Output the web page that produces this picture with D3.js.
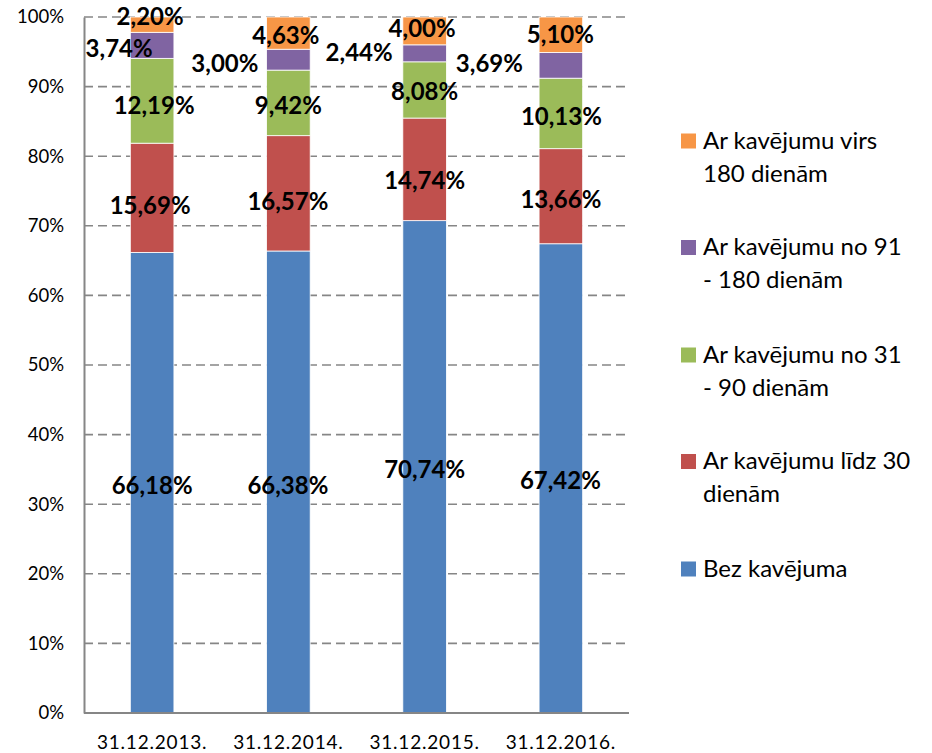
<!DOCTYPE html>
<html>
<head>
<meta charset="utf-8">
<script src="https://cdn.jsdelivr.net/npm/d3@7"></script>
<style>
  html, body { margin: 0; padding: 0; background: #fff; }
  svg { display: block; }
</style>
</head>
<body>
<svg id="chart" width="932" height="753"></svg>
<script>
// ---- data ----
const categories = ["31.12.2013.", "31.12.2014.", "31.12.2015.", "31.12.2016."];
const seriesNames = [
  "Bez kavējuma",
  "Ar kavējumu līdz 30 dienām",
  "Ar kavējumu no 31 - 90 dienām",
  "Ar kavējumu no 91 - 180 dienām",
  "Ar kavējumu virs 180 dienām"
];
const bezKavejuma   = [66.18, 66.38, 70.74, 67.42];
const lidz30        = [15.69, 16.57, 14.74, 13.66];
const no31lidz90    = [12.19,  9.42,  8.08, 10.13];
const no91lidz180   = [ 3.74,  3.00,  2.44,  3.69];
const virs180       = [ 2.20,  4.63,  4.00,  5.10];
const yTicks = [0, 10, 20, 30, 40, 50, 60, 70, 80, 90, 100];

// legend label lines (as shown, wrapped)
const legendLines = [
  ["Bez kavējuma"],
  ["Ar kavējumu līdz 30", "dienām"],
  ["Ar kavējumu no 31", "- 90 dienām"],
  ["Ar kavējumu no 91", "- 180 dienām"],
  ["Ar kavējumu virs", "180 dienām"]
];

// ---- styling / layout ----
const colors = ["#4F81BD", "#C0504D", "#9BBB59", "#8064A2", "#F79646"];
const font = "Lato, 'Open Sans', sans-serif";
const labelFs = 24, tickFs = 18.5, xTickFs = 19, legendFs = 24;
// label nudges [dx, dy] relative to segment centre (layout only)
const labelNudge = [
  [[0, 2.5], [-0.5, 3], [0, 2.2], [-0.5, 2.4]],
  [[-2, 8], [-0.5, 8.3], [0, 11], [0, 3]],
  [[2, 4.4], [0, 2], [0, 1], [0.5, 2.6]],
  [[-33, 3], [-63.5, 3.4], [-65.5, -1.3], [-71.5, -2.3]],
  [[-2, -8.6], [-2.5, 2], [-2.5, -3], [-0.5, 0]]
];

const seriesValues = [bezKavejuma, lidz30, no31lidz90, no91lidz180, virs180];
const rows = categories.map((c, i) => {
  const r = { cat: c };
  seriesNames.forEach((s, k) => r[s] = seriesValues[k][i]);
  return r;
});
const stacked = d3.stack().keys(seriesNames)(rows);

const svg = d3.select("#chart");
const plotL = 84, plotR = 629, plotT = 17, plotB = 713;

const x = d3.scaleBand().domain(categories).range([plotL, plotR])
  .paddingInner(0.68).paddingOuter(0.34);
const y = d3.scaleLinear().domain([0, 100]).range([plotB, plotT]);

// gridlines
svg.append("g").selectAll("line").data(yTicks.filter(t => t > 0)).join("line")
  .attr("x1", plotL).attr("x2", plotR)
  .attr("y1", d => y(d)).attr("y2", d => y(d))
  .attr("stroke", "#868686").attr("stroke-width", 1.6)
  .attr("stroke-dasharray", "9,5");

// y axis
const yAxis = d3.axisLeft(y).tickValues(yTicks).tickSize(0).tickPadding(20)
  .tickFormat(d => d + "%");
const gy = svg.append("g").attr("transform", `translate(${plotL},0)`).call(yAxis);
gy.select(".domain").attr("stroke", "#868686").attr("stroke-width", 2);
gy.selectAll("text").attr("font-family", font).attr("font-size", tickFs)
  .attr("fill", "#000");

// bars
const gBars = svg.append("g");
stacked.forEach((layer, k) => {
  gBars.append("g").selectAll("rect").data(layer).join("rect")
    .attr("x", d => x(d.data.cat))
    .attr("width", x.bandwidth())
    .attr("y", d => y(d[1]))
    .attr("height", d => y(d[0]) - y(d[1]))
    .attr("fill", colors[k])
    .attr("stroke", "#ffffff").attr("stroke-width", 0.8);
});

// x axis
const xAxis = d3.axisBottom(x).tickSize(0).tickPadding(23);
const gx = svg.append("g").attr("transform", `translate(0,${plotB})`).call(xAxis);
gx.select(".domain").attr("stroke", "#868686").attr("stroke-width", 2)
  .attr("d", `M${plotL},0H${plotR}`);
gx.selectAll("text").attr("font-family", font).attr("font-size", xTickFs)
  .attr("letter-spacing", "0.8px")
  .attr("fill", "#000");

// data labels
const fmt = v => d3.format(".2f")(v).replace(".", ",") + "%";
const gLab = svg.append("g");
stacked.forEach((layer, k) => {
  gLab.append("g").selectAll("text").data(layer).join("text")
    .attr("x", (d, i) => x(d.data.cat) + x.bandwidth() / 2 + labelNudge[k][i][0])
    .attr("y", (d, i) => (y(d[0]) + y(d[1])) / 2 + labelNudge[k][i][1] + 0.36 * labelFs)
    .attr("text-anchor", "middle")
    .attr("font-family", font).attr("font-size", labelFs).attr("font-weight", "bold")
    .attr("fill", "#000")
    .text((d, i) => fmt(seriesValues[k][i]));
});

// legend (top entry = last series)
const legendY = [569, 461.5, 355, 247.5, 141];
const gLeg = svg.append("g");
seriesNames.forEach((s, k) => {
  const g = gLeg.append("g").attr("transform", `translate(681,${legendY[k]})`);
  g.append("rect").attr("x", 0).attr("y", -7.5).attr("width", 15).attr("height", 15)
    .attr("fill", colors[k]);
  const t = g.append("text").attr("font-family", font).attr("font-size", legendFs)
    .attr("fill", "#000");
  legendLines[k].forEach((line, j) => {
    t.append("tspan").attr("x", 22).attr("y", 7.5 + j * 33).text(line);
  });
});
</script>
</body>
</html>
